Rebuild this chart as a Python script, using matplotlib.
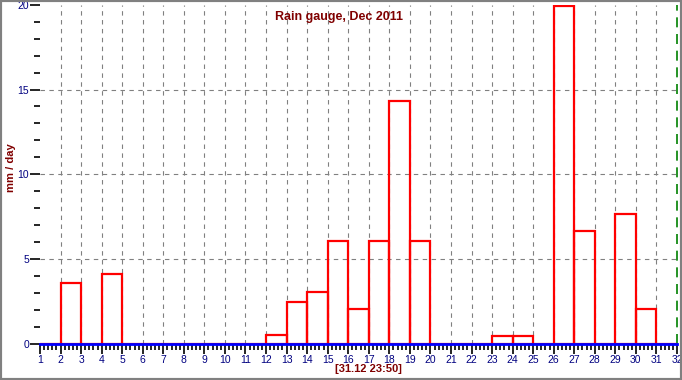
import numpy as np
import matplotlib
matplotlib.use('Agg')
import matplotlib.pyplot as plt
from matplotlib.patches import Rectangle
from matplotlib.ticker import MultipleLocator

plt.rcParams['font.family'] = ['Liberation Sans', 'DejaVu Sans']

# daily rain, Dec 2011 (mm/day)
dias = list(range(1, 32))
lluvia = [0.0, 3.6, 0.0, 4.1, 0.0, 0.0, 0.0, 0.0, 0.0, 0.0,
          0.0, 0.55, 2.5, 3.05, 6.1, 2.05, 6.1, 14.3, 6.1, 0.0,
          0.0, 0.0, 0.5, 0.5, 0.0, 19.9, 6.65, 0.0, 7.65, 2.05, 0.0]
titulo = 'Rain gauge, Dec 2011'
etiqueta_y = 'mm / day'
etiqueta_x = '[31.12 23:50]'

W, H = 682, 380
fig = plt.figure(figsize=(W / 100, H / 100), dpi=100)
ax = fig.add_axes([40 / W, 1 - 344 / H, 637 / W, 339.3 / H])

ax.bar(dias, lluvia, width=1, align='edge', fill=False,
       edgecolor='#ff0000', linewidth=1.6, zorder=3)

ax.set_xlim(1, 32)
ax.set_ylim(0, 20)

# grid
for d in range(2, 32):
    ax.axvline(d, color='#808080', lw=0.8, ls=(0, (4, 4)), zorder=1)
for v in (5, 10, 15):
    ax.axhline(v, color='#808080', lw=0.8, ls=(0, (4, 4)), zorder=1)
ax.axvline(32, color='#008000', lw=1.2, ls=(0, (6, 4)), zorder=2, clip_on=False)

for s in ('top', 'right', 'left'):
    ax.spines[s].set_visible(False)
ax.spines['bottom'].set_color('#0000ff')
ax.spines['bottom'].set_linewidth(2)
ax.spines['bottom'].set_zorder(4)

ax.xaxis.set_major_locator(MultipleLocator(1))
ax.xaxis.set_minor_locator(MultipleLocator(0.2))
ax.yaxis.set_major_locator(MultipleLocator(5))
ax.yaxis.set_minor_locator(MultipleLocator(1))
ax.tick_params(axis='both', which='major', length=7, width=1.2, color='black',
               labelcolor='#000080', labelsize=7.5, pad=1)
ax.tick_params(axis='both', which='minor', length=4, width=1.2, color='black')

ax.set_title(titulo, color='#800000', fontsize=9, fontweight='bold',
             x=0.47, y=0.955, pad=0)
ax.set_ylabel(etiqueta_y, color='#800000', fontsize=8, fontweight='bold')
ax.yaxis.set_label_coords(-0.038, 0.52)
ax.set_xlabel(etiqueta_x, color='#800000', fontsize=8, fontweight='bold')
ax.xaxis.set_label_coords(0.515, -0.058)

fig.patches.append(Rectangle((0, 0), 1, 1, fill=False, edgecolor='#808080',
                             lw=3, transform=fig.transFigure, figure=fig))

fig.savefig('out.png', dpi=100)
